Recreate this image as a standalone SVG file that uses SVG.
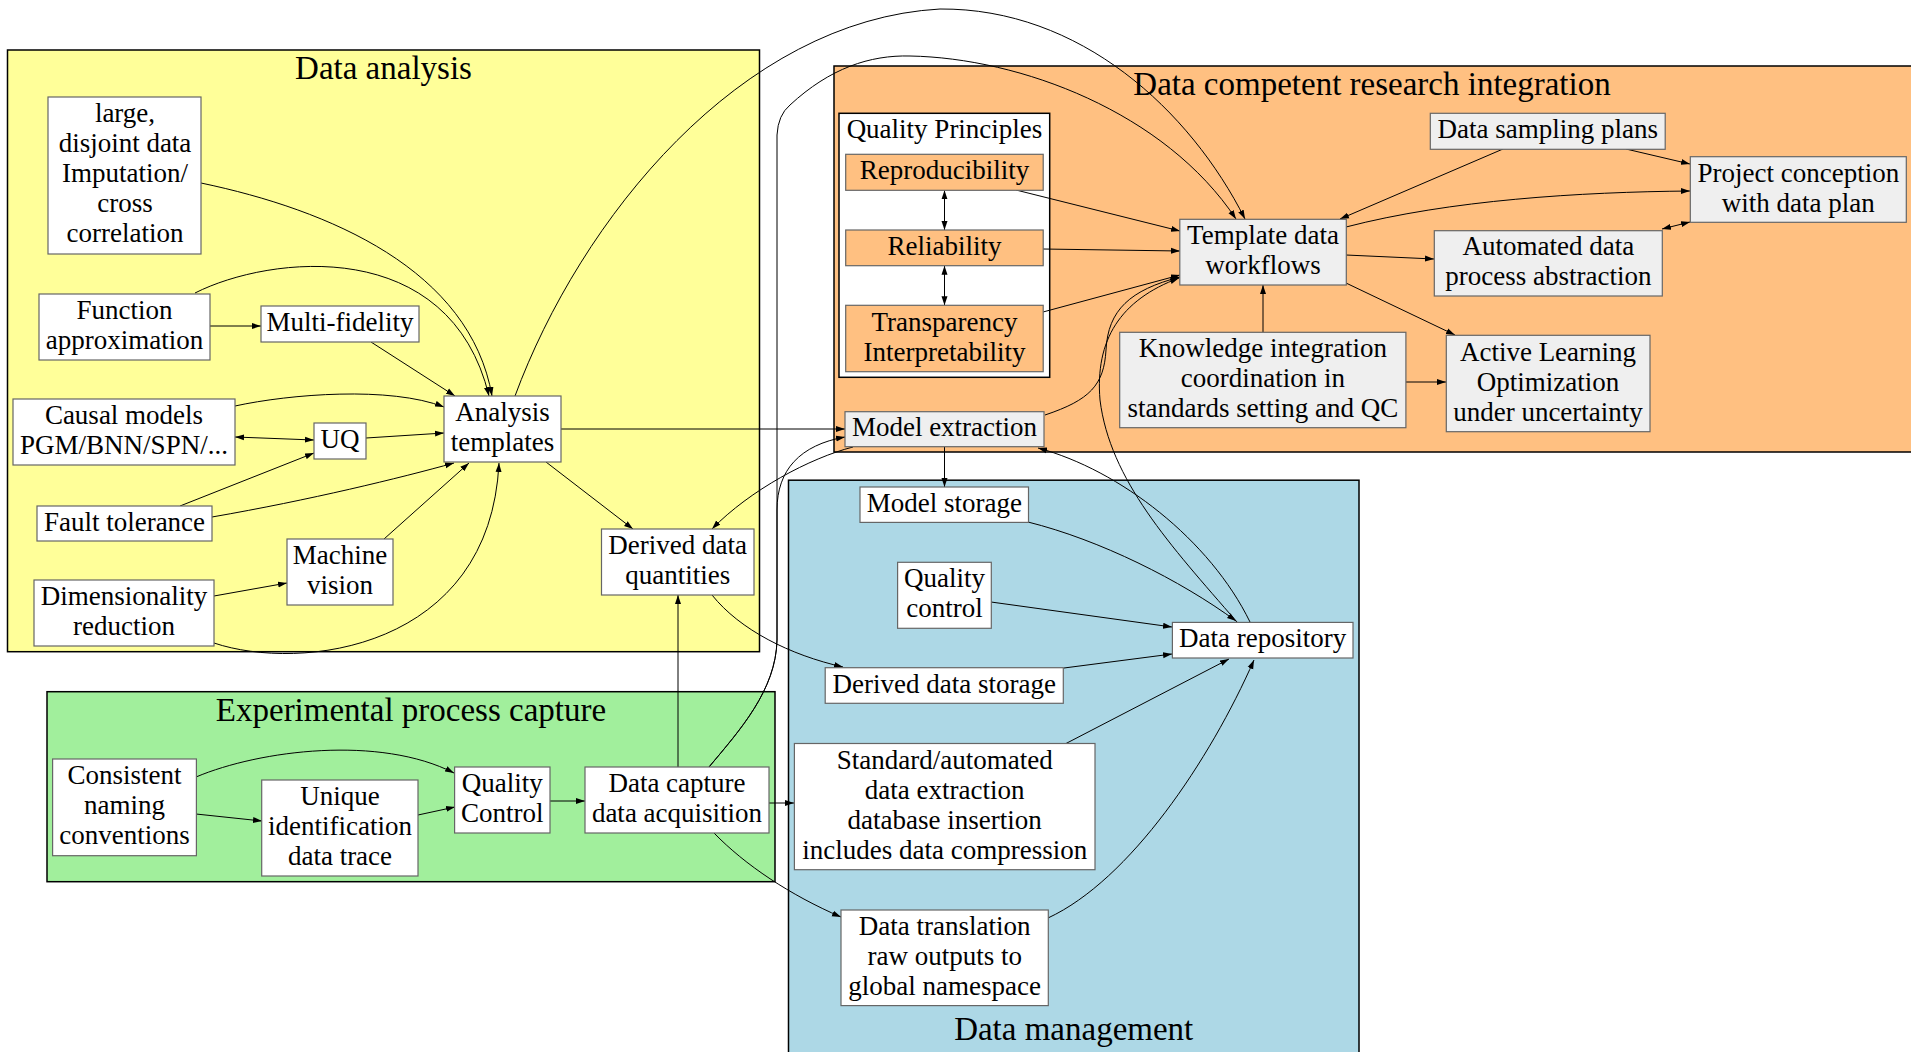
<svg xmlns="http://www.w3.org/2000/svg" width="1911" height="1052" viewBox="0 0 1911 1052">
  <style>
    .cl { stroke: #000; stroke-width: 1.5; }
    .n { fill: #fff; stroke: #666; stroke-width: 1.2; }
    .g { fill: #efefef; stroke: #666; stroke-width: 1.2; }
    .o { fill: #ffc081; stroke: #666; stroke-width: 1.2; }
    text { font-family: "Liberation Serif", "Times New Roman", serif; fill: #000; text-anchor: middle; }
    .t { font-size: 27px; }
    .ct { font-size: 33px; }
    #edges path { fill: none; stroke: #000; stroke-width: 1; marker-end: url(#ah); }
    #edges path.bi { marker-start: url(#ah); }
  </style>
  <defs>
    <marker id="ah" markerUnits="userSpaceOnUse" markerWidth="9" markerHeight="7" refX="9" refY="3.5" orient="auto-start-reverse">
      <path d="M0,0.5 L9,3.5 L0,6.5 z" fill="#000"/>
    </marker>
  </defs>

  <rect width="1911" height="1052" fill="#fff"/>

  <!-- clusters -->
  <g id="cluster-analysis">
    <rect class="cl" x="7.5" y="50" width="752" height="601.7" fill="#ffff99"/>
    <text class="ct" x="383.5" y="79">Data analysis</text>
  </g>
  <g id="cluster-integration">
    <rect class="cl" x="834" y="66" width="1080" height="386" fill="#ffc081"/>
    <text class="ct" x="1372" y="95">Data competent research integration</text>
  </g>
  <g id="cluster-experimental">
    <rect class="cl" x="47" y="691.7" width="728" height="190" fill="#a1ef9c"/>
    <text class="ct" x="411" y="720.7">Experimental process capture</text>
  </g>
  <g id="cluster-management">
    <rect class="cl" x="788.5" y="480.2" width="570.5" height="580" fill="#add8e6"/>
    <text class="ct" x="1073.7" y="1040">Data management</text>
  </g>
  <g id="cluster-quality">
    <rect class="cl" x="839" y="113.3" width="210.7" height="264" fill="#fff"/>
    <text class="t" x="944.5" y="138.3">Quality Principles</text>
  </g>

  <!-- connectors -->
  <g id="edges">
    <path d="M201,183 C330,210 470,270 492,396"/>
    <path d="M195,293 C270,255 450,235 489,396"/>
    <path d="M210,326 L261,326"/>
    <path d="M371,342 L455,396"/>
    <path d="M515,396 C580,220 740,20 940,9 C1080,8 1190,110 1245,219"/>
    <path d="M561,429 L845,429"/>
    <path d="M546,462 L633,529"/>
    <path d="M235,406 C290,394 390,386 444,407"/>
    <path class="bi" d="M235,437 L314,440"/>
    <path d="M366,438 L444,433"/>
    <path d="M180,506 L314,453"/>
    <path d="M212,517 C310,500 400,478 454,463"/>
    <path d="M384,539 L469,463"/>
    <path d="M214,596 L287,583"/>
    <path d="M214,643 C300,672 490,650 499,463"/>
    <path d="M853,447 C810,458 750,490 712,529"/>
    <path d="M712,595 C740,630 790,655 843,667"/>
    <path d="M678,767 L678,595"/>
    <path d="M769,803 L794,803"/>
    <path d="M714,833 C745,865 790,895 841,917"/>
    <path d="M196,777 C260,750 380,735 454,773"/>
    <path d="M196,814 L262,821"/>
    <path d="M418,815 L455,807"/>
    <path d="M550,801 L585,801"/>
    <path class="bi" d="M944.5,190.3 L944.5,230"/>
    <path class="bi" d="M944.5,265.7 L944.5,305.3"/>
    <path d="M1016,190 L1180,231"/>
    <path d="M1043,249 L1180,251"/>
    <path d="M1043,312 L1180,275"/>
    <path d="M1045,415 C1090,400 1104,385 1106,350 C1108,310 1130,290 1180,277"/>
    <path d="M1237,622 C1170,545 1110,480 1100,400 C1095,340 1120,300 1179,278"/>
    <path d="M1250,622 C1210,540 1120,470 1038,448"/>
    <path d="M1263,332 L1263,285"/>
    <path d="M1406,382 L1446,382"/>
    <path d="M1503,149 L1340,219"/>
    <path d="M1626,149 L1690,164"/>
    <path d="M1346,227 C1450,200 1580,192 1690,191"/>
    <path d="M1346,255 L1434,259"/>
    <path class="bi" d="M1662,229 L1690,222"/>
    <path d="M1346,283 L1455,335"/>
    <path d="M944.5,447 L944.5,487"/>
    <path d="M1028,522 C1100,540 1180,580 1236,621"/>
    <path d="M991,602 L1172,627"/>
    <path d="M1064,668 L1172,654"/>
    <path d="M1066,743.5 L1229,659"/>
    <path d="M1048,918 C1130,880 1210,760 1254,660"/>
    <path d="M709,767 C740,730 776,690 777,640 L777,135 Q778,115 790,105 C830,68 870,55 910,56 C1020,58 1165,112 1236,219"/>
    <path d="M709,767 C740,730 776,690 777,640 L777,510 C777,470 800,445 845,437"/>
  </g>

  <!-- data analysis nodes -->
  <g id="large-data">
    <rect class="n" x="48" y="97" width="153" height="157"/>
    <text class="t"><tspan x="125" y="121.5">large,</tspan><tspan x="125" y="151.5">disjoint data</tspan><tspan x="125" y="181.5">Imputation/</tspan><tspan x="125" y="211.5">cross</tspan><tspan x="125" y="241.5">correlation</tspan></text>
  </g>
  <g id="function-approx">
    <rect class="n" x="39" y="294" width="171" height="66"/>
    <text class="t"><tspan x="124.5" y="319">Function</tspan><tspan x="124.5" y="349">approximation</tspan></text>
  </g>
  <g id="multi-fidelity">
    <rect class="n" x="261" y="306" width="158" height="36"/>
    <text class="t" x="340" y="331">Multi-fidelity</text>
  </g>
  <g id="analysis-templates">
    <rect class="n" x="444" y="396" width="117" height="66"/>
    <text class="t"><tspan x="502.5" y="421">Analysis</tspan><tspan x="502.5" y="451">templates</tspan></text>
  </g>
  <g id="causal-models">
    <rect class="n" x="13" y="399" width="222" height="66"/>
    <text class="t"><tspan x="124" y="424">Causal models</tspan><tspan x="124" y="454">PGM/BNN/SPN/...</tspan></text>
  </g>
  <g id="uq">
    <rect class="n" x="314" y="423" width="52" height="36"/>
    <text class="t" x="340" y="448">UQ</text>
  </g>
  <g id="fault-tolerance">
    <rect class="n" x="37" y="506" width="175" height="35"/>
    <text class="t" x="124.5" y="530.5">Fault tolerance</text>
  </g>
  <g id="machine-vision">
    <rect class="n" x="287" y="539" width="106" height="66"/>
    <text class="t"><tspan x="340" y="564">Machine</tspan><tspan x="340" y="594">vision</tspan></text>
  </g>
  <g id="dimensionality">
    <rect class="n" x="34" y="580" width="180" height="66"/>
    <text class="t"><tspan x="124" y="605">Dimensionality</tspan><tspan x="124" y="635">reduction</tspan></text>
  </g>
  <g id="derived-quantities">
    <rect class="n" x="601.5" y="529" width="152.5" height="66"/>
    <text class="t"><tspan x="677.7" y="554">Derived data</tspan><tspan x="677.7" y="584">quantities</tspan></text>
  </g>

  <!-- experimental process nodes -->
  <g id="consistent-naming">
    <rect class="n" x="52.6" y="759" width="143.8" height="96.7"/>
    <text class="t"><tspan x="124.5" y="784.3">Consistent</tspan><tspan x="124.5" y="814.3">naming</tspan><tspan x="124.5" y="844.3">conventions</tspan></text>
  </g>
  <g id="unique-id">
    <rect class="n" x="261.7" y="780" width="156.3" height="96"/>
    <text class="t"><tspan x="340" y="805">Unique</tspan><tspan x="340" y="835">identification</tspan><tspan x="340" y="865">data trace</tspan></text>
  </g>
  <g id="quality-control-exp">
    <rect class="n" x="454.6" y="767" width="95.4" height="66"/>
    <text class="t"><tspan x="502.3" y="792">Quality</tspan><tspan x="502.3" y="822">Control</tspan></text>
  </g>
  <g id="data-capture">
    <rect class="n" x="585" y="767" width="184" height="66"/>
    <text class="t"><tspan x="677" y="792">Data capture</tspan><tspan x="677" y="822">data acquisition</tspan></text>
  </g>

  <!-- research integration nodes -->
  <g id="reproducibility">
    <rect class="o" x="845.7" y="154.3" width="197.5" height="36"/>
    <text class="t" x="944.5" y="179.3">Reproducibility</text>
  </g>
  <g id="reliability">
    <rect class="o" x="845.7" y="230" width="197.5" height="35.7"/>
    <text class="t" x="944.5" y="254.8">Reliability</text>
  </g>
  <g id="transparency">
    <rect class="o" x="845.7" y="305.3" width="197.5" height="66.4"/>
    <text class="t"><tspan x="944.5" y="330.5">Transparency</tspan><tspan x="944.5" y="360.5">Interpretability</tspan></text>
  </g>
  <g id="template-workflows">
    <rect class="g" x="1179.8" y="219.3" width="166.5" height="65.7"/>
    <text class="t"><tspan x="1263" y="244.2">Template data</tspan><tspan x="1263" y="274.2">workflows</tspan></text>
  </g>
  <g id="knowledge-integration">
    <rect class="g" x="1119.7" y="332.3" width="286.2" height="95.4"/>
    <text class="t"><tspan x="1262.8" y="357">Knowledge integration</tspan><tspan x="1262.8" y="387">coordination in</tspan><tspan x="1262.8" y="417">standards setting and QC</tspan></text>
  </g>
  <g id="model-extraction">
    <rect class="g" x="845" y="411.7" width="199" height="35"/>
    <text class="t" x="944.5" y="436.2">Model extraction</text>
  </g>
  <g id="sampling-plans">
    <rect class="g" x="1430.3" y="113.3" width="234.9" height="36"/>
    <text class="t" x="1547.7" y="138.3">Data sampling plans</text>
  </g>
  <g id="project-conception">
    <rect class="g" x="1690.3" y="156.7" width="216" height="65.6"/>
    <text class="t"><tspan x="1798.3" y="181.5">Project conception</tspan><tspan x="1798.3" y="211.5">with data plan</tspan></text>
  </g>
  <g id="automated-abstraction">
    <rect class="g" x="1434.3" y="230.7" width="228" height="65.3"/>
    <text class="t"><tspan x="1548.3" y="255.3">Automated data</tspan><tspan x="1548.3" y="285.3">process abstraction</tspan></text>
  </g>
  <g id="active-learning">
    <rect class="g" x="1446.3" y="335.3" width="203.7" height="96.4"/>
    <text class="t"><tspan x="1548" y="360.5">Active Learning</tspan><tspan x="1548" y="390.5">Optimization</tspan><tspan x="1548" y="420.5">under uncertainty</tspan></text>
  </g>

  <!-- data management nodes -->
  <g id="model-storage">
    <rect class="n" x="860" y="487" width="168.5" height="35.4"/>
    <text class="t" x="944.3" y="511.7">Model storage</text>
  </g>
  <g id="quality-control-mgmt">
    <rect class="n" x="897.6" y="562.3" width="93.7" height="66"/>
    <text class="t"><tspan x="944.5" y="587.3">Quality</tspan><tspan x="944.5" y="617.3">control</tspan></text>
  </g>
  <g id="data-repository">
    <rect class="n" x="1172.4" y="622.4" width="180.6" height="35.6"/>
    <text class="t" x="1262.7" y="647.2">Data repository</text>
  </g>
  <g id="derived-storage">
    <rect class="n" x="825.2" y="667.7" width="238.1" height="35.6"/>
    <text class="t" x="944.3" y="692.5">Derived data storage</text>
  </g>
  <g id="standard-extraction">
    <rect class="n" x="794.4" y="743.5" width="300.6" height="126.2"/>
    <text class="t"><tspan x="944.7" y="768.6">Standard/automated</tspan><tspan x="944.7" y="798.6">data extraction</tspan><tspan x="944.7" y="828.6">database insertion</tspan><tspan x="944.7" y="858.6">includes data compression</tspan></text>
  </g>
  <g id="data-translation">
    <rect class="n" x="841" y="910" width="207.3" height="95.6"/>
    <text class="t"><tspan x="944.7" y="934.8">Data translation</tspan><tspan x="944.7" y="964.8">raw outputs to</tspan><tspan x="944.7" y="994.8">global namespace</tspan></text>
  </g>
</svg>
